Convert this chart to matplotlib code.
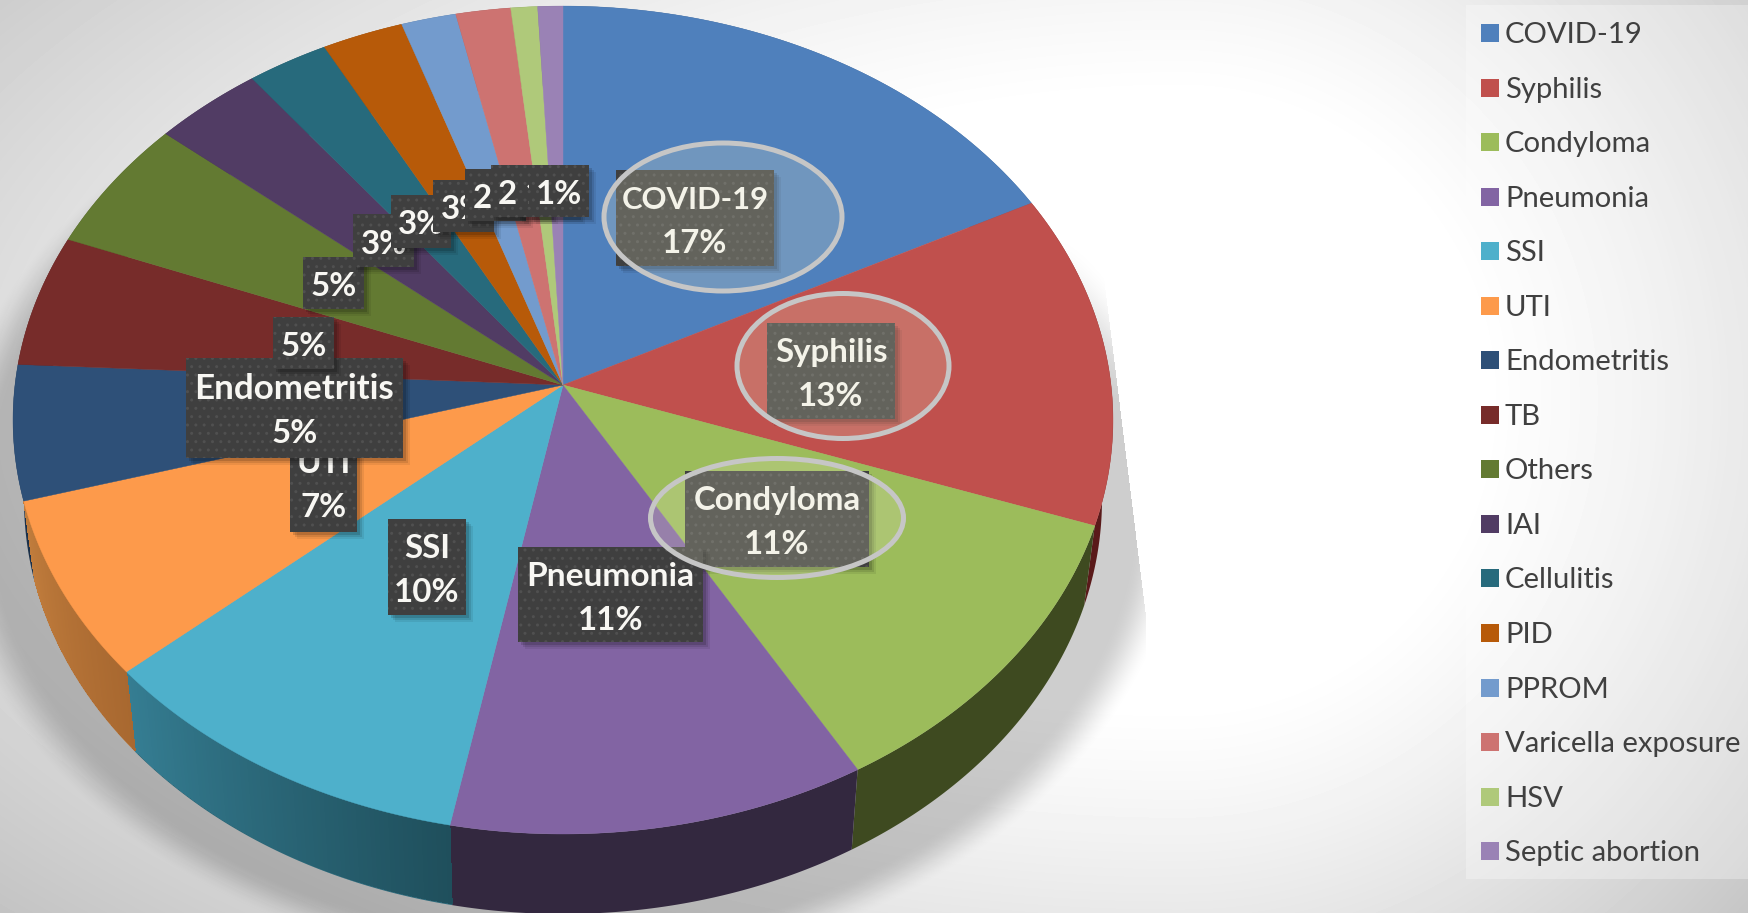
import numpy as np
import matplotlib
matplotlib.use('Agg')
import matplotlib.pyplot as plt
from matplotlib.collections import PolyCollection
from matplotlib.patches import Rectangle, Ellipse

# slice sizes (percent)
names = ['COVID-19', 'Syphilis', 'Condyloma', 'Pneumonia', 'SSI', 'UTI', 'Endometritis', 'TB',
         'Others', 'IAI', 'Cellulitis', 'PID', 'PPROM', 'Varicella exposure', 'HSV', 'Septic abortion']
values = [17.4, 13.0, 11.3, 11.33, 10.52, 7.0, 5.25, 5.15, 5.2, 3.5, 2.6, 2.6, 1.75, 1.75, 0.85, 0.8]
pct_labels = ['17%', '13%', '11%', '11%', '10%', '7%', '5%', '5%', '5%', '3%', '3%', '3%', '2%', '2%', '1%', '1%']
named_labels = ['COVID-19', 'Syphilis', 'Condyloma', 'Pneumonia', 'SSI', 'UTI', 'Endometritis']
name_sizes = [31, 33, 33, 33.5, 33, 33, 35]
colors = ['#4f80bc', '#c0504d', '#9cbc5b', '#8264a3', '#4eb0cb', '#fd9a4b', '#2e5078', '#772c2a',
          '#637a32', '#513c64', '#276a7c', '#b75a09', '#739bcd', '#cd7371', '#afc97a', '#9a82b5']
wall_left = ['#2f4d72', '#5a1a1a', '#3e4a20', '#33283f', '#357d92', '#c07c3c', '#1b3049', '#471a19',
             '#3a491e', '#30253e', '#18424d', '#713605', '#45607f', '#7f4746', '#6c7c4b', '#5f5170']
wall_right = ['#2f4d72', '#5a1a1a', '#3e4a20', '#33283f', '#1f4f5c', '#a86830', '#1b3049', '#471a19',
              '#3a491e', '#30253e', '#18424d', '#713605', '#45607f', '#7f4746', '#6c7c4b', '#5f5170']

# label boxes: left, top, right, bottom in pixels
boxes = [(616, 170, 774, 266), (767, 323, 895, 419), (685, 471, 869, 567), (518, 547, 703, 642),
         (388, 519, 466, 615), (290, 432, 357, 532), (186, 358, 403, 458), (273, 317, 334, 369),
         (303, 257, 364, 309), (353, 214, 414, 267), (391, 195, 451, 248), (433, 180, 494, 232),
         (465, 169, 526, 221), (491, 165, 551, 217), (517, 165, 578, 217), (529, 165, 589, 217)]
rings = [(723, 217, 238, 148), (843, 366, 212, 145), (777, 518, 253, 119)]

W, H = 1749, 913
CX, CY = 563, 385
A, B, K = 548, 411, 0.0846
DEPTH, SHRINK = 80, 0.98
PX = 0.72  # points per pixel at dpi 100


def project(ang):
    u, v = np.sin(ang), np.cos(ang)
    w = 1 + K * v
    return CX + A * u / w, CY - B * v / w


fig = plt.figure(figsize=(W / 100, H / 100), dpi=100)
ax = fig.add_axes([0, 0, 1, 1])
ax.set_xlim(0, W)
ax.set_ylim(H, 0)
ax.axis('off')

# background and soft shadow under the pie
yy, xx = np.mgrid[0:H, 0:W]
dx = xx - 1180.0
dx = np.where(dx < 0, dx * 0.5, dx)
d = np.hypot(dx, yy - 400.0)
bg = 255 - 55 * np.clip((d - 300) / 450, 0, 1.1) ** 1.2
ax.imshow(bg, cmap='gray', vmin=0, vmax=255, extent=(0, W, H, 0), aspect='auto', zorder=0)

s = (np.hypot((xx - 563) / 590.0, (yy - 500) / 450.0) - 1) * 590
t = np.clip((32 - s) / 50, 0, 1)
shadow = 0.195 * t * t * (3 - 2 * t)
edge = np.minimum(1120 + (yy - 410) * 0.124, 1146)
shadow = np.where(xx < edge, shadow, 0)
# on the right it fades out going up along the rim
ramp = np.clip((yy - 230) / 170.0, 0, 1)
shadow = np.where(xx > 563, shadow * ramp, shadow)
rgba = np.zeros((H, W, 4))
rgba[..., 3] = shadow
ax.imshow(rgba, extent=(0, W, H, 0), aspect='auto', zorder=1)
ax.set_xlim(0, W)
ax.set_ylim(H, 0)

# pie, side wall first and then the top
edges = np.radians(np.concatenate([[0], np.cumsum(values)]) / sum(values) * 360)
for i in range(len(values)):
    ang = np.linspace(edges[i], edges[i + 1], 80)
    x, y = project(ang)
    xb = CX + (x - CX) * SHRINK
    yb = y + DEPTH
    c0 = np.array(matplotlib.colors.to_rgb(wall_left[i]))
    c1 = np.array(matplotlib.colors.to_rgb(wall_right[i]))
    ax.fill(np.r_[x, xb[::-1]], np.r_[y, yb[::-1]], facecolor=(c0 + c1) / 2, edgecolor='none', zorder=2)
    if wall_left[i] != wall_right[i]:
        # the gradient runs left to right on screen, the angle runs right to left
        polys, cols = [], []
        for j in range(len(ang) - 1):
            polys.append([(x[j], y[j]), (x[j + 1], y[j + 1]), (xb[j + 1], yb[j + 1] - 1.5), (xb[j], yb[j] - 1.5)])
            f = j / (len(ang) - 2.0)
            cols.append(c1 * (1 - f) + c0 * f)
        ax.add_collection(PolyCollection(polys, facecolors=cols, edgecolors='none', antialiaseds=False, zorder=2.1))

for i in range(len(values)):
    ang = np.linspace(edges[i], edges[i + 1], 80)
    x, y = project(ang)
    ax.fill(np.r_[CX, x], np.r_[CY, y], facecolor=colors[i], edgecolor=colors[i], linewidth=0.3, zorder=3)

# data labels, later ones cover earlier ones
z = 4
for i, (x0, y0, x1, y1) in enumerate(boxes):
    for off, al in [(7, 0.07), (5, 0.10), (3, 0.14)]:
        ax.add_patch(Rectangle((x0 + off, y0 + off), x1 - x0, y1 - y0, facecolor='black', alpha=al,
                               linewidth=0, zorder=z))
    ax.add_patch(Rectangle((x0, y0), x1 - x0, y1 - y0, facecolor='#3f3f3f', edgecolor='#505050',
                           hatch='..', linewidth=0, zorder=z + 0.1))
    xc, yc = (x0 + x1) / 2.0, (y0 + y1) / 2.0
    if i < len(named_labels):
        ax.text(xc, yc - 9, named_labels[i], color='#f8f7f3', fontsize=name_sizes[i] * PX, family='Lato',
                fontweight='bold', ha='center', va='baseline', zorder=z + 0.2)
        ax.text(xc, yc + 35, pct_labels[i], color='#f8f7f3', fontsize=33 * PX, family='Lato',
                fontweight='bold', ha='center', va='baseline', zorder=z + 0.2)
    else:
        ax.text(xc, yc + 13, pct_labels[i], color='#f8f7f3', fontsize=33 * PX, family='Lato',
                fontweight='bold', ha='center', va='baseline', zorder=z + 0.2)
    z += 1

# the three highlight rings
for rx, ry, rw, rh in rings:
    ax.add_patch(Ellipse((rx, ry), rw, rh, facecolor=(0.9, 0.9, 0.78, 0.22), edgecolor='#c6c6c6',
                         linewidth=5 * PX, zorder=z))

# legend panel
ax.add_patch(Rectangle((1466, 5), W - 1466, 874, facecolor='white', alpha=0.3, linewidth=0, zorder=z))
for i, name in enumerate(names):
    top = 24 + 54.55 * i
    ax.add_patch(Rectangle((1481, top), 18, 18, facecolor=colors[i], linewidth=0, zorder=z + 1))
    ax.text(1505, top + 19, name, color='#404040', fontsize=29.3 * PX, family='Lato', ha='left',
            va='baseline', zorder=z + 1)

plt.savefig('out.png', dpi=100)
